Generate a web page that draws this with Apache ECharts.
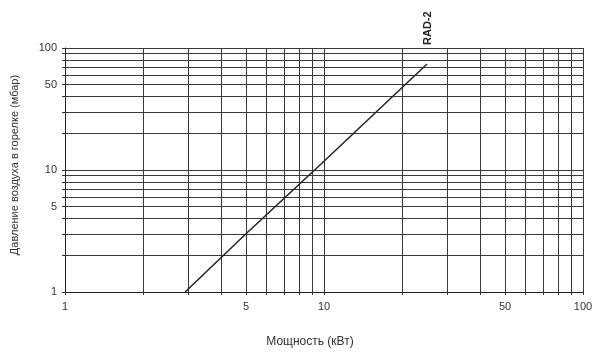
<!DOCTYPE html>
<html>
<head>
<meta charset="utf-8">
<script src="https://cdn.jsdelivr.net/npm/echarts@6/dist/echarts.min.js"></script>
<style>html,body{margin:0;padding:0;background:#fff}#c{width:600px;height:358px}</style>
</head>
<body>
<div id="c"></div>
<script>
const seriesName = 'RAD-2';
const powerKW = [2.91, 5, 10, 25];
const pressureMbar = [1, 3, 11.8, 74];
const gridValues = [1,2,3,4,5,6,7,8,9,10,20,30,40,50,60,70,80,90,100];
const labelValues = [1,5,10,50,100];
const xTitle = 'Мощность (кВт)';
const yTitle = 'Давление воздуха в горелке (мбар)';

const font = 'Liberation Sans, Arial, sans-serif';
const chart = echarts.init(document.getElementById('c'));
const axisCommon = {
  type: 'log', logBase: 10, min: 1, max: 100,
  axisLine: { show: true, lineStyle: { color: '#222', width: 1 } },
  axisTick: { show: true, customValues: gridValues, length: 3, lineStyle: { color: '#333' } },
  axisLabel: { customValues: labelValues, fontFamily: font, fontSize: 11, color: '#333' },
  splitLine: { show: true, lineStyle: { color: '#3a3a3a', width: 1 } },
  minorSplitLine: { show: false }
};
chart.setOption({
  animation: false,
  grid: { left: 65, right: 17, top: 48, bottom: 66, containLabel: false },
  xAxis: Object.assign({}, axisCommon, {
    name: xTitle, nameLocation: 'middle', nameGap: 44,
    nameTextStyle: { fontFamily: font, fontSize: 12, color: '#333', padding: [0, 28, 0, 0] },
    axisLabel: Object.assign({}, axisCommon.axisLabel, { margin: 9 })
  }),
  yAxis: Object.assign({}, axisCommon, {
    name: yTitle, nameLocation: 'middle', nameGap: 45, nameRotate: 90,
    nameTextStyle: { fontFamily: font, fontSize: 11, color: '#333', padding: [0, 0, 0, 10] },
    axisLabel: Object.assign({}, axisCommon.axisLabel, { margin: 8 })
  }),
  series: [{
    name: seriesName, type: 'line', symbol: 'none',
    data: powerKW.map((x, i) => [x, pressureMbar[i]]),
    lineStyle: { color: '#222', width: 1.5 }
  }],
  graphic: [{
    type: 'text', x: 428, y: 45, rotation: Math.PI / 2,
    style: { text: seriesName, fontFamily: font, fontSize: 11, fontWeight: 'bold', fill: '#222',
      textAlign: 'left', textVerticalAlign: 'middle' }
  }]
});
</script>
</body>
</html>
